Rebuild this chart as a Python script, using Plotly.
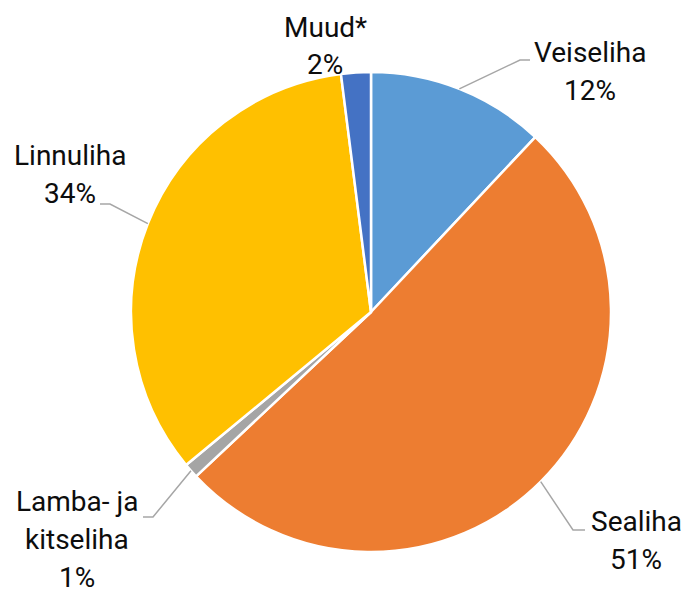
import math
import plotly.graph_objects as go

categories = ["Veiseliha", "Sealiha", "Lamba- ja kitseliha", "Linnuliha", "Muud*"]
label_lines = [["Veiseliha"], ["Sealiha"], ["Lamba- ja", "kitseliha"], ["Linnuliha"], ["Muud*"]]
values = [12, 51, 1, 34, 2]
colors = ["#5B9BD5", "#ED7D31", "#A5A5A5", "#FFC000", "#4472C4"]

W, H = 686, 596
CX, CY, R = 371, 312, 240  # pie centre/radius in pixels (layout)

# label placement (layout): text centre x, first line y, elbow point, line end (pixels)
label_pos = [
    dict(x=590, y=52.5, elbow=(520, 60), end=(530, 60), line=True),
    dict(x=636, y=521, elbow=(573, 530), end=(585, 530), line=True),
    dict(x=77, y=501, elbow=(153, 517), end=(143, 517), line=True),
    dict(x=70, y=155.5, elbow=(110, 204), end=(100, 204), line=True),
    dict(x=325, y=27, elbow=None, end=None, line=False),
]
LINE_H = 38
FONT = "Roboto"
FS = 28

def px(x):
    return x / W

def py(y):
    return 1 - y / H

fig = go.Figure(go.Pie(
    labels=categories,
    values=values,
    sort=False,
    direction="clockwise",
    rotation=0,
    marker=dict(colors=colors, line=dict(color="white", width=2.5)),
    textinfo="none",
    hoverinfo="label+percent",
    domain=dict(x=[px(CX - R), px(CX + R)], y=[py(CY + R), py(CY - R)]),
    showlegend=False,
))

total = sum(values)
annotations = []
shapes = []
cum = 0
for lines, v, pos in zip(label_lines, values, label_pos):
    mid = (cum + v / 2) / total * 2 * math.pi
    cum += v
    pct = f"{round(v / total * 100)}%"
    all_lines = lines + [pct]
    for i, t in enumerate(all_lines):
        annotations.append(dict(
            x=px(pos["x"]), y=py(pos["y"] + i * LINE_H), xref="paper", yref="paper",
            text=t, showarrow=False, xanchor="center", yanchor="middle",
            font=dict(family=FONT, size=FS, color="#0d0d0d"),
        ))
    if pos["line"]:
        sx = CX + R * math.sin(mid)
        sy = CY - R * math.cos(mid)
        ex, ey = pos["elbow"]
        tx, ty = pos["end"]
        path = f"M {px(sx)},{py(sy)} L {px(ex)},{py(ey)} L {px(tx)},{py(ty)}"
        shapes.append(dict(type="path", xref="paper", yref="paper", path=path,
                           line=dict(color="#A6A6A6", width=1.5)))

fig.update_layout(
    width=W, height=H,
    margin=dict(l=0, r=0, t=0, b=0),
    paper_bgcolor="white",
    plot_bgcolor="white",
    annotations=annotations,
    shapes=shapes,
)

fig.write_html(
    "out.html",
    config={"displayModeBar": False},
    post_script="document.body.style.margin='0';document.body.style.overflow='hidden';",
)
